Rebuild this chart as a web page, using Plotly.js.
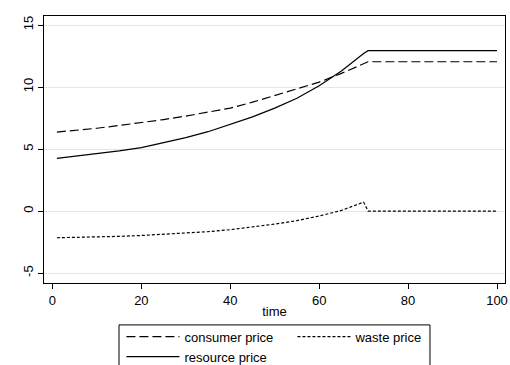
<!DOCTYPE html>
<html>
<head>
<meta charset="utf-8">
<script src="https://cdn.plot.ly/plotly-3.0.1.min.js"></script>
<style>html,body{margin:0;padding:0;background:#fff;}#chart{width:510px;height:365px;}</style>
</head>
<body>
<div id="chart"></div>
<script>
// time points
var time = [1, 5, 10, 15, 20, 25, 30, 35, 40, 45, 50, 55, 60, 65, 70, 71, 75, 80, 85, 90, 95, 100];
// consumer price
var consumerPrice = [6.37, 6.5, 6.68, 6.9, 7.12, 7.38, 7.66, 7.95, 8.3, 8.78, 9.3, 9.85, 10.4, 11.1, 11.9, 12.04, 12.04, 12.04, 12.04, 12.04, 12.04, 12.04];
// resource price
var resourcePrice = [4.25, 4.42, 4.62, 4.85, 5.12, 5.5, 5.92, 6.4, 7.0, 7.6, 8.3, 9.1, 10.1, 11.3, 12.7, 12.93, 12.93, 12.93, 12.93, 12.93, 12.93, 12.93];
// waste price
var wastePrice = [-2.15, -2.13, -2.09, -2.04, -1.97, -1.88, -1.78, -1.66, -1.5, -1.3, -1.05, -0.77, -0.4, 0.05, 0.72, 0, 0, 0, 0, 0, 0, 0];
var xTicks = [0, 20, 40, 60, 80, 100];
var yTicks = [-5, 0, 5, 10, 15];

var fnt = {family: 'Liberation Sans, Arial, sans-serif', size: 13, color: '#000'};

var traces = [
  {x: time, y: consumerPrice, name: 'consumer price', mode: 'lines', line: {color: '#000', width: 1.2, dash: '9px,4px'}},
  {x: time, y: wastePrice, name: 'waste price', mode: 'lines', line: {color: '#000', width: 1.2, dash: '3px,2px'}},
  {x: time, y: resourcePrice, name: 'resource price', mode: 'lines', line: {color: '#000', width: 1.2}}
];

var layout = {
  width: 510, height: 365,
  margin: {l: 44, r: 5, t: 16, b: 82, autoexpand: false},
  paper_bgcolor: '#fff', plot_bgcolor: '#fff',
  font: fnt,
  showlegend: true,
  xaxis: {
    range: [-1.9, 101.8], tickvals: xTicks, ticktext: xTicks.map(String),
    showgrid: false, zeroline: false, showline: true, linecolor: '#000', linewidth: 1, mirror: true,
    ticks: 'outside', ticklen: 5, tickcolor: '#000',
    title: {text: 'time', font: fnt, standoff: 0}
  },
  yaxis: {
    range: [-5.8, 15.73], tickvals: yTicks, ticktext: yTicks.map(String), tickangle: -90,
    showgrid: true, gridcolor: '#e6e6e6', gridwidth: 1, zeroline: false,
    showline: true, linecolor: '#000', linewidth: 1, mirror: true,
    ticks: 'outside', ticklen: 5, tickcolor: '#000'
  },
  legend: {
    orientation: 'h', x: 0.168, xanchor: 'left', y: -0.145, yanchor: 'top',
    bgcolor: 'rgba(0,0,0,0)', borderwidth: 0, font: fnt, itemwidth: 53,
    entrywidth: 103, entrywidthmode: 'pixels', tracegroupgap: 0, traceorder: 'normal'
  },
  shapes: [
    {type: 'rect', xref: 'paper', yref: 'paper', x0: 0.1627, x1: 0.8373, y0: -0.31, y1: -0.157,
     line: {color: '#000', width: 1}, fillcolor: 'rgba(0,0,0,0)', layer: 'below'}
  ]
};

Plotly.newPlot('chart', traces, layout, {displayModeBar: false, staticPlot: true});
</script>
</body>
</html>
